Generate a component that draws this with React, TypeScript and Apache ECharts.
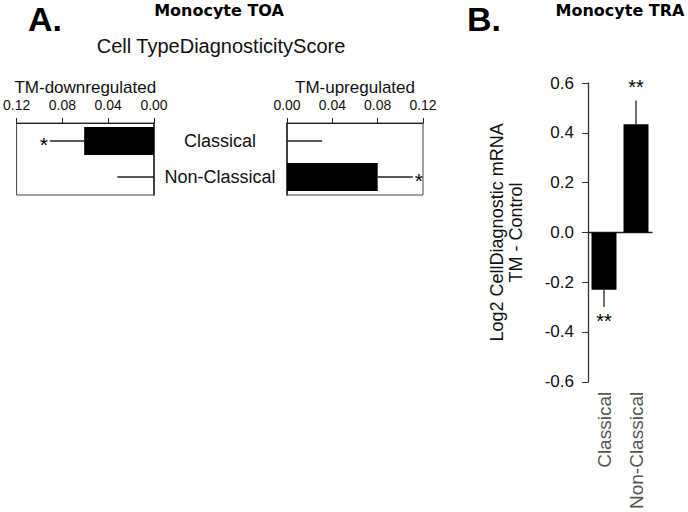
import React, { useEffect, useRef } from 'react';
import * as echarts from 'echarts';

// Panel A: Cell Type Diagnosticity Score (Monocyte TOA)
const catsA = ['Classical', 'Non-Classical'];
const downValues = [0.061, 0];
const downErrors = [0.03, 0.032];
const downStars = ['*', ''];
const upValues = [0, 0.08];
const upErrors = [0.031, 0.031];
const upStars = ['', '*'];
const scoreTicks = [0, 0.04, 0.08, 0.12];

// Panel B: Log2 Cell Diagnostic mRNA (Monocyte TRA)
const catsB = ['Classical', 'Non-Classical'];
const traValues = [-0.23, 0.434];
const traErrors = [0.07, 0.096];
const traStars = ['**', '**'];
const traTicks = [-0.6, -0.4, -0.2, 0, 0.2, 0.4, 0.6];

const FONT = 'Liberation Sans';
const LINE = '#222';

const hErrorItem = (stars: string[]) => (params: any, api: any) => {
  const i = params.dataIndex;
  const p0 = api.coord([api.value(0), api.value(2)]);
  const p1 = api.coord([api.value(1), api.value(2)]);
  const dir = p1[0] >= p0[0] ? 1 : -1;
  const children: any[] = [
    { type: 'line', shape: { x1: p0[0], y1: p0[1], x2: p1[0], y2: p1[1] }, style: { stroke: LINE, lineWidth: 1.3 } },
  ];
  if (stars[i]) {
    children.push({
      type: 'text',
      x: p1[0] + dir * 2,
      y: p1[1] + 3,
      style: { text: stars[i], fontSize: 21, fontFamily: FONT, fill: '#000', align: dir > 0 ? 'left' : 'right', verticalAlign: 'middle' },
    });
  }
  return { type: 'group', children };
};

const vErrorItem = (params: any, api: any) => {
  const i = params.dataIndex;
  const p0 = api.coord([api.value(2), api.value(0)]);
  const p1 = api.coord([api.value(2), api.value(1)]);
  const up = p1[1] < p0[1];
  return {
    type: 'group',
    children: [
      { type: 'line', shape: { x1: p0[0], y1: p0[1], x2: p1[0], y2: p1[1] }, style: { stroke: LINE, lineWidth: 1.3 } },
      {
        type: 'text',
        x: p1[0],
        y: up ? p1[1] - 3 : p1[1] + 4,
        style: { text: traStars[i], fontSize: 20, fontFamily: FONT, fill: '#000', align: 'center', verticalAlign: up ? 'bottom' : 'top' },
      },
    ],
  };
};

const scoreAxis = (gridIndex: number, name: string, inverse: boolean) => ({
  type: 'value',
  gridIndex,
  position: 'top',
  inverse,
  min: scoreTicks[0],
  max: scoreTicks[scoreTicks.length - 1],
  interval: 0.04,
  name,
  nameLocation: 'middle',
  nameGap: 27,
  nameTextStyle: { fontSize: 17, color: '#111', fontFamily: FONT },
  axisLine: { show: true, lineStyle: { color: LINE, width: 1.2 } },
  axisTick: { show: true, length: 5, lineStyle: { color: LINE } },
  axisLabel: { fontSize: 14, color: '#111', margin: 11, formatter: (v: number) => v.toFixed(2) },
  splitLine: { show: false },
});

export default function App() {
  const ref = useRef<HTMLDivElement>(null);

  useEffect(() => {
    if (!ref.current) return;
    const chart = echarts.init(ref.current, null, { renderer: 'svg' });

    chart.setOption({
      animation: false,
      backgroundColor: '#fff',
      textStyle: { fontFamily: FONT },
      grid: [
        { left: 16, top: 123, width: 138, height: 72, show: true, borderColor: '#444', borderWidth: 1 },
        { left: 287, top: 123, width: 136, height: 72, show: true, borderColor: '#444', borderWidth: 1 },
        { left: 588, top: 83, width: 64, height: 300 },
      ],
      xAxis: [
        scoreAxis(0, 'TM-downregulated', true),
        scoreAxis(1, 'TM-upregulated', false),
        {
          type: 'category',
          gridIndex: 2,
          position: 'top',
          data: catsB,
          axisLine: { show: true, onZero: true, lineStyle: { color: LINE, width: 1.3 } },
          axisTick: { show: false },
          axisLabel: { show: false },
        },
        {
          type: 'category',
          gridIndex: 2,
          position: 'bottom',
          data: catsB,
          axisLine: { show: false, onZero: false },
          axisTick: { show: false },
          axisLabel: { rotate: 90, margin: 10, fontSize: 19, color: '#555' },
        },
      ],
      yAxis: [
        {
          type: 'category',
          gridIndex: 0,
          position: 'right',
          inverse: true,
          data: catsA,
          axisLine: { show: true, onZero: false, lineStyle: { color: LINE, width: 1.5 } },
          axisTick: { show: false },
          axisLabel: { show: false },
        },
        {
          type: 'category',
          gridIndex: 1,
          position: 'left',
          inverse: true,
          data: catsA,
          axisLine: { show: true, onZero: false, lineStyle: { color: LINE, width: 1.5 } },
          axisTick: { show: false },
          axisLabel: { align: 'center', margin: 67, fontSize: 18, color: '#111' },
        },
        {
          type: 'value',
          gridIndex: 2,
          min: traTicks[0],
          max: traTicks[traTicks.length - 1],
          interval: 0.2,
          name: 'Log2 CellDiagnostic mRNA\nTM - Control',
          nameLocation: 'middle',
          nameRotate: 90,
          nameGap: 63,
          nameTextStyle: { fontSize: 18, color: '#111', lineHeight: 19 },
          axisLine: { show: true, lineStyle: { color: '#333', width: 1.3 } },
          axisTick: { show: true, length: 6, lineStyle: { color: '#333' } },
          axisLabel: { fontSize: 17, color: '#111', margin: 14, formatter: (v: number) => v.toFixed(1) },
          splitLine: { show: false },
        },
      ],
      series: [
        {
          type: 'bar',
          xAxisIndex: 0,
          yAxisIndex: 0,
          data: downValues,
          barWidth: '78%',
          itemStyle: { color: '#000' },
        },
        {
          type: 'custom',
          xAxisIndex: 0,
          yAxisIndex: 0,
          data: catsA.map((_, i) => [downValues[i], downValues[i] + downErrors[i], i]),
          encode: { x: [0, 1], y: 2 },
          renderItem: hErrorItem(downStars),
          clip: false,
        },
        {
          type: 'bar',
          xAxisIndex: 1,
          yAxisIndex: 1,
          data: upValues,
          barWidth: '78%',
          itemStyle: { color: '#000' },
        },
        {
          type: 'custom',
          xAxisIndex: 1,
          yAxisIndex: 1,
          data: catsA.map((_, i) => [upValues[i], upValues[i] + upErrors[i], i]),
          encode: { x: [0, 1], y: 2 },
          renderItem: hErrorItem(upStars),
          clip: false,
        },
        {
          type: 'bar',
          xAxisIndex: 2,
          yAxisIndex: 2,
          data: traValues,
          barWidth: '78%',
          itemStyle: { color: '#000' },
        },
        {
          type: 'custom',
          xAxisIndex: 2,
          yAxisIndex: 2,
          data: catsB.map((_, i) => [traValues[i], traValues[i] + Math.sign(traValues[i]) * traErrors[i], i]),
          encode: { x: 2, y: [0, 1] },
          renderItem: vErrorItem,
          clip: false,
        },
      ],
      graphic: [
        { type: 'text', x: 28, y: 2, style: { text: 'A.', font: `bold 34px "${FONT}"`, fill: '#000' } },
        { type: 'text', x: 467, y: 2, style: { text: 'B.', font: `bold 34px "${FONT}"`, fill: '#000' } },
        { type: 'text', x: 219, y: 10, style: { text: 'Monocyte TOA', font: 'bold 16px "DejaVu Sans"', fill: '#000', align: 'center', verticalAlign: 'middle' } },
        { type: 'text', x: 620, y: 10, style: { text: 'Monocyte TRA', font: 'bold 16px "DejaVu Sans"', fill: '#000', align: 'center', verticalAlign: 'middle' } },
        { type: 'text', x: 221, y: 46, style: { text: 'Cell TypeDiagnosticityScore', font: `20px "${FONT}"`, fill: '#111', align: 'center', verticalAlign: 'middle' } },
      ],
    });

    return () => chart.dispose();
  }, []);

  return <div ref={ref} style={{ position: 'fixed', left: 0, top: 0, width: 688, height: 512 }} />;
}
